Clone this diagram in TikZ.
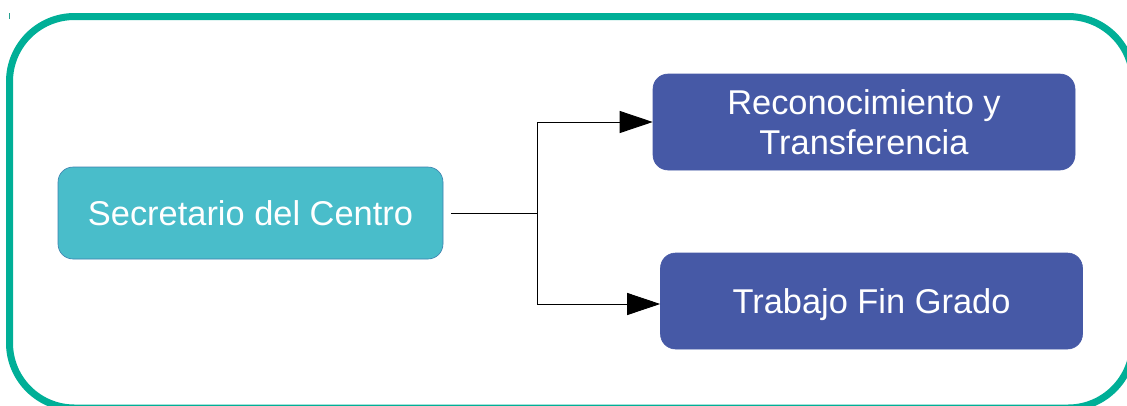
\documentclass[tikz,border=0pt]{standalone}
\usepackage{fontspec}
\setmainfont{Liberation Sans}
\usetikzlibrary{arrows.meta}
\definecolor{frameteal}{HTML}{00AF97}
\definecolor{secfill}{HTML}{49BDCA}
\definecolor{secline}{HTML}{3D7FAE}
\definecolor{unitfill}{HTML}{4659A6}
\tikzset{
  boxtext/.style={text=white, font=\fontsize{34.4}{39.5}\selectfont, align=center, inner sep=0pt},
  rolebox/.style={boxtext, draw=secline, line width=0.6pt, fill=secfill, rounded corners=15pt,
    minimum width=385pt, minimum height=92pt},
  unitbox/.style={boxtext, draw=unitfill, line width=0.6pt, fill=unitfill, rounded corners=15pt,
    minimum width=422pt, minimum height=96pt},
  link/.style={draw=black, line width=0.9pt},
  arrowlink/.style={link, -{Triangle[length=33pt, width=22pt]}}
}
\begin{document}
\begin{tikzpicture}[x=1pt, y=-1pt]
  \useasboundingbox (0,0) rectangle (1127,405);
  \begin{scope}
    \clip (0,0) rectangle (1127,405);
    % outer frame, running past the right and bottom edges
    \draw[frameteal, line width=7pt, rounded corners=65pt] (9.5,16.5) rectangle (1133,408);
  \end{scope}
  \draw[frameteal!70!gray, line width=0.7pt] (9,13) -- (9,19);

  \node[rolebox] (sec) at (250.5,213) {Secretario del Centro};
  \node[unitbox] (rec) at (864,122) {Reconocimiento y\\Transferencia};
  \node[unitbox, text depth=0pt] (tfg) at (871.5,301) {Trabajo Fin Grado};

  \coordinate (j) at (537,213);
  \draw[link, shorten <=8pt] (sec.east) -- (j);
  \draw[arrowlink] (j) |- (rec.west);
  \draw[arrowlink] (j) |- ([yshift=-3pt]tfg.west);
\end{tikzpicture}
\end{document}
